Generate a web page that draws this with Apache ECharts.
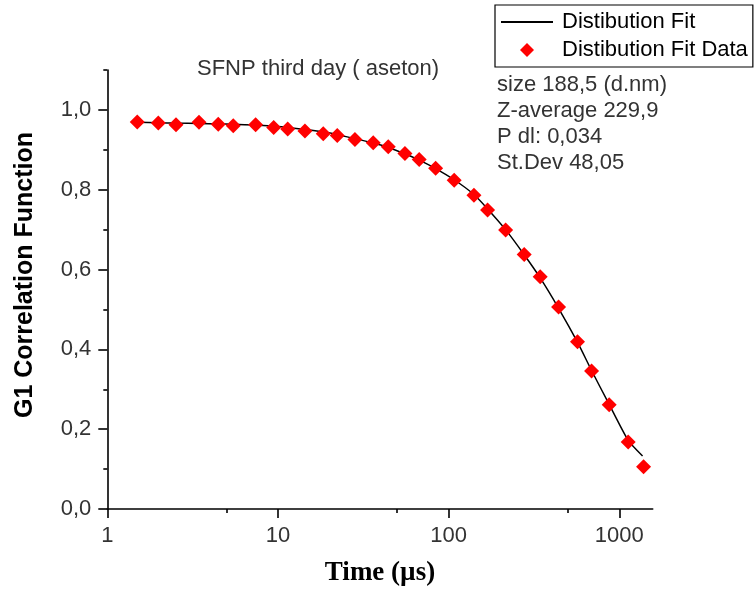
<!DOCTYPE html>
<html>
<head>
<meta charset="utf-8">
<script src="https://cdn.jsdelivr.net/npm/echarts@6/dist/echarts.min.js"></script>
<style>html,body{margin:0;padding:0;background:#fff}#c{width:754px;height:591px}</style>
</head>
<body>
<div id="c"></div>
<script>
// ---- data ----
const times = [1.498,1.99,2.527,3.445,4.47,5.47,7.40,9.44,11.40,14.39,18.42,22.25,28.25,36.16,44.29,55.46,67.26,83.9,107.8,140.7,169.2,215.8,277.3,344.1,441.0,569.0,688.2,872.8,1127.6,1388];
const g1Data = [0.970,0.967,0.963,0.969,0.964,0.960,0.963,0.956,0.952,0.947,0.940,0.936,0.926,0.918,0.908,0.891,0.876,0.854,0.824,0.786,0.749,0.699,0.638,0.582,0.506,0.419,0.346,0.261,0.168,0.106];
const fitTimes = [1.498,1.99,2.527,3.445,4.47,5.47,7.40,9.44,11.40,14.39,18.42,22.25,28.25,36.16,44.29,55.46,67.26,83.9,107.8,140.7,169.2,215.8,277.3,344.1,441.0,569.0,688.2,872.8,1127.6,1369];
const fitValues = [0.969,0.968,0.967,0.966,0.965,0.964,0.962,0.959,0.956,0.951,0.945,0.938,0.928,0.917,0.906,0.890,0.874,0.853,0.825,0.788,0.752,0.700,0.637,0.579,0.503,0.418,0.347,0.262,0.172,0.133];
const xMajorTicks = [1,10,100,1000];
const xMinorTicks = [5,50,500];
const yMajorTicks = [0,0.2,0.4,0.6,0.8,1.0];
const yMinorTicks = [0.1,0.3,0.5,0.7,0.9,1.1];
const titleText = 'SFNP third day ( aseton)';
const fitName = 'Distibution Fit';
const dataName = 'Distibution Fit Data';
const infoLines = ['size 188,5 (d.nm)','Z-average 229,9','P dl: 0,034','St.Dev 48,05'];
const xName = 'Time (µs)';
const yName = 'G1 Correlation Function';

const SANS = '"Liberation Sans", Arial, sans-serif';
const SERIF = '"Liberation Serif", "Times New Roman", serif';
const axisLineStyle = {color:'#000', width:1.6};
const DIAMOND = 'path://M0,-1L1,0L0,1L-1,0Z';

const chart = echarts.init(document.getElementById('c'), null, {renderer:'canvas'});
const option = {
  backgroundColor:'#fff',
  animation:false,
  grid:{left:107.3, right:101.3, top:70, bottom:82, containLabel:false, outerBoundsMode:'none'},
  xAxis:[{
    type:'log', logBase:10, min:1, max:1570,
    name:xName, nameLocation:'middle', nameGap:51,
    nameTextStyle:{fontFamily:SERIF, fontWeight:'bold', fontSize:27, color:'#000'},
    axisLine:{show:true, onZero:false, lineStyle:axisLineStyle},
    axisTick:{show:true, inside:false, length:9, lineStyle:axisLineStyle, customValues:xMajorTicks},
    axisLabel:{show:true, margin:16, fontFamily:SANS, fontSize:22, color:'#333', customValues:xMajorTicks, formatter:(v)=>String(Math.round(v))},
    splitLine:{show:false}, minorTick:{show:false}
  },{
    type:'log', logBase:10, min:1, max:1570, position:'bottom',
    axisLine:{show:false, onZero:false},
    axisTick:{show:true, inside:false, length:4, lineStyle:axisLineStyle, customValues:xMinorTicks},
    axisLabel:{show:false}, splitLine:{show:false}
  }],
  yAxis:[{
    type:'value', min:0, max:1.1,
    name:yName, nameLocation:'middle', nameGap:70, nameRotate:90,
    nameTextStyle:{fontFamily:SANS, fontWeight:'bold', fontSize:25, color:'#000', padding:[0,0,0,29]},
    axisLine:{show:true, onZero:false, lineStyle:axisLineStyle},
    axisTick:{show:true, inside:false, length:9, lineStyle:axisLineStyle, customValues:yMajorTicks},
    axisLabel:{show:true, margin:16, fontFamily:SANS, fontSize:22, color:'#333', customValues:yMajorTicks, formatter:(v)=>v.toFixed(1).replace('.',',')},
    splitLine:{show:false}
  },{
    type:'value', min:0, max:1.1, position:'left',
    axisLine:{show:false, onZero:false},
    axisTick:{show:true, inside:false, length:4, lineStyle:axisLineStyle, customValues:yMinorTicks},
    axisLabel:{show:false}, splitLine:{show:false}
  }],
  legend:{
    orient:'vertical', left:495, top:5,
    borderColor:'#000', borderWidth:1.2, borderRadius:0,
    padding:[6,5,6,5], itemGap:6, itemWidth:52, itemHeight:14,
    symbolKeepAspect:true,
    textStyle:{fontFamily:SANS, fontSize:22, color:'#000', padding:[0,0,0,4]},
    data:[
      {name:fitName, itemStyle:{color:'rgba(0,0,0,0)', borderColor:'rgba(0,0,0,0)', borderWidth:0, opacity:0}},
      {name:dataName, icon:DIAMOND, itemStyle:{color:'#ff0000', opacity:1}}
    ]
  },
  graphic:[
    {type:'text', left:197, top:58, style:{text:titleText, fontFamily:SANS, fontSize:22, fill:'#333'}, z:10}
  ].concat(infoLines.map((t,i)=>({type:'text', left:497, top:74 + i*26, style:{text:t, fontFamily:SANS, fontSize:22, fill:'#333'}, z:10}))),
  series:[{
    name:fitName, type:'line', xAxisIndex:0, yAxisIndex:0,
    data:fitTimes.map((t,i)=>[t, fitValues[i]]),
    symbol:'none', showSymbol:false, smooth:0.2,
    lineStyle:{color:'#000', width:1.5}, itemStyle:{color:'#000'}, z:2
  },{
    name:dataName, type:'scatter', xAxisIndex:0, yAxisIndex:0,
    data:times.map((t,i)=>[t, g1Data[i]]),
    symbol:'diamond', symbolSize:15,
    itemStyle:{color:'#ff0000', opacity:1}, z:3
  }]
};
chart.setOption(option);
</script>
</body>
</html>
